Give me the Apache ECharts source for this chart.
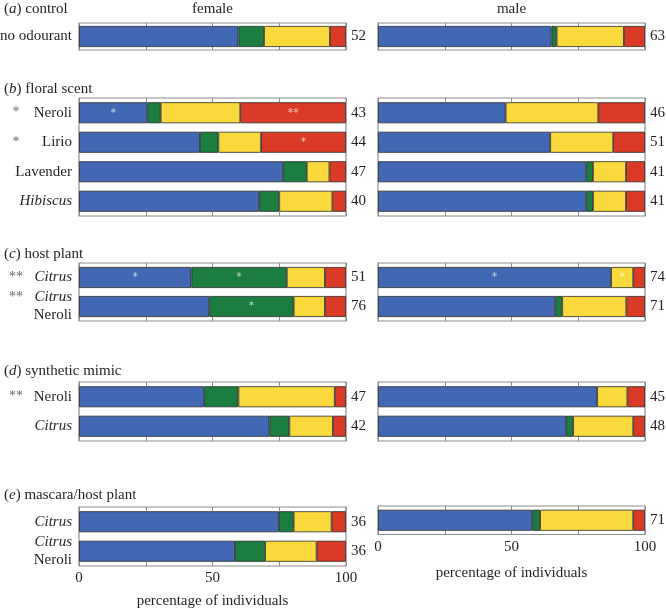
<!DOCTYPE html>
<html>
<head>
<meta charset="utf-8">
<script src="https://cdn.jsdelivr.net/npm/echarts@6/dist/echarts.min.js"></script>
<style>
html, body { margin: 0; padding: 0; background: #fff; }
#main { width: 666px; height: 608px; }
</style>
</head>
<body>
<div id="main"></div>
<script>
// sections and rows
var sectionLetters = ['a', 'b', 'c', 'd', 'e'];
var sectionNames = ['control', 'floral scent', 'host plant', 'synthetic mimic', 'mascara/host plant'];
var rowNames = [['no odourant'], ['Neroli', 'Lirio', 'Lavender', 'Hibiscus'], ['Citrus', 'Citrus\nNeroli'], ['Neroli', 'Citrus'], ['Citrus', 'Citrus\nNeroli']];
var rowStars = [[''], ['*', '*', '', ''], ['**', '**'], ['**', ''], ['', '']];
var italicWords = ['Citrus', 'Hibiscus'];
var panelTitles = ['female', 'male'];
var tickLabels = [0, 50, 100];
var axisTitle = 'percentage of individuals';

// female, per section
var femaleBlue = [[59.7], [25.6, 45.3, 76.5, 67.5], [42.1, 48.8], [46.9, 71.3], [74.9, 58.4]];
var femaleGreen = [[9.6], [5.0, 6.9, 8.8, 7.5], [35.7, 31.6], [12.8, 7.5], [5.5, 11.3]];
var femaleYellow = [[24.7], [29.8, 16.0, 8.5, 19.9], [14.3, 11.7], [36.1, 16.3], [14.2, 19.3]];
var femaleRed = [[6.0], [39.6, 31.8, 6.2, 5.1], [7.9, 7.9], [4.2, 4.9], [5.4, 11.0]];
var femaleN = [[52], [43, 44, 47, 40], [51, 76], [47, 42], [36, 36]];
// stars inside bars: [blue, green, yellow, red]
var femaleStars = [
  [['', '', '', '']],
  [['*', '', '', '**'], ['', '', '', '*'], ['', '', '', ''], ['', '', '', '']],
  [['*', '*', '', ''], ['', '*', '', '']],
  [['', '', '', ''], ['', '', '', '']],
  [['', '', '', ''], ['', '', '', '']]
];

// male, per section (only one row in e)
var maleBlue = [[65.0], [47.8, 64.5, 78.0, 78.0], [87.3, 66.4], [82.1, 70.5], [57.8]];
var maleGreen = [[1.9], [0, 0, 2.5, 2.5], [0, 2.6], [0, 2.6], [2.9]];
var maleYellow = [[25.2], [34.7, 23.6, 12.4, 12.4], [8.3, 24.0], [11.3, 22.5], [34.9]];
var maleRed = [[7.9], [17.5, 11.9, 7.1, 7.1], [4.4, 7.0], [6.6, 4.4], [4.4]];
var maleN = [[63], [46, 51, 41, 41], [74, 71], [45, 48], [71]];
var maleStars = [
  [['', '', '', '']],
  [['', '', '', ''], ['', '', '', ''], ['', '', '', ''], ['', '', '', '']],
  [['*', '', '*', ''], ['', '', '', '']],
  [['', '', '', ''], ['', '', '', '']],
  [['', '', '', '']]
];

var colors = ['#4268b3', '#1b7d3f', '#fad93c', '#da3b27'];
var font = 'Liberation Serif';
var ink = '#231f20';

// layout
var panelLeft = [79, 378];
var panelWidth = 267;
var gridTop = [[23, 98, 263, 382, 507], [23, 98, 263, 382, 506]];
var gridHeight = [[27, 118, 58, 59, 59], [27, 118, 58, 59, 28.5]];
var headTop = [9, 89, 254, 371, 495];
var nameGap = [28, 31];

var panels = [
  { blue: femaleBlue, green: femaleGreen, yellow: femaleYellow, red: femaleRed, n: femaleN, stars: femaleStars },
  { blue: maleBlue, green: maleGreen, yellow: maleYellow, red: maleRed, n: maleN, stars: maleStars }
];

function rowLabel(sec, idx, name) {
  var star = rowStars[sec][idx];
  return name.split('\n').map(function (w, li) {
    var it = italicWords.indexOf(w) >= 0;
    if (li === 0 && star) {
      return '{s|' + star + '}{' + (it ? 'ni' : 'n') + '|' + w + '}';
    }
    return '{' + (it ? 'mi' : 'm') + '|' + w + '}';
  }).join('\n');
}

var labelRich = {
  s: { width: 22, align: 'center', fontSize: 14, color: '#666', fontFamily: font, lineHeight: 18 },
  n: { width: 45, align: 'right', fontSize: 15, color: ink, fontFamily: font, lineHeight: 18 },
  ni: { width: 45, align: 'right', fontSize: 15, color: ink, fontFamily: font, fontStyle: 'italic', lineHeight: 18 },
  m: { fontSize: 15, color: ink, fontFamily: font, lineHeight: 18 },
  mi: { fontSize: 15, color: ink, fontFamily: font, fontStyle: 'italic', lineHeight: 18 }
};

var grid = [], xAxis = [], yAxis = [], series = [], graphic = [];

panels.forEach(function (pd, p) {
  sectionLetters.forEach(function (letter, s) {
    var g = grid.length;
    var nRows = pd.blue[s].length;
    var cats = rowNames[s].slice(0, nRows);
    var last = s === sectionLetters.length - 1;
    grid.push({
      left: panelLeft[p], width: panelWidth, top: gridTop[p][s], height: gridHeight[p][s],
      outerBoundsMode: 'none', containLabel: false,
      show: true, borderColor: '#8c8c8c', borderWidth: 1.2, backgroundColor: 'transparent'
    });
    var tick = { show: true, inside: true, length: 4, lineStyle: { color: '#8c8c8c', width: 1 } };
    xAxis.push({
      type: 'value', gridIndex: g, position: 'bottom', min: 0, max: 100, interval: 25,
      axisLine: { show: false }, splitLine: { show: false }, axisTick: tick,
      axisLabel: {
        show: last, margin: 5, fontSize: 15, fontFamily: font, color: ink,
        formatter: function (v) { return tickLabels.indexOf(v) >= 0 ? String(v) : ''; }
      },
      name: last ? axisTitle : '', nameLocation: 'middle', nameGap: nameGap[p],
      nameTextStyle: { fontSize: 15, fontFamily: font, color: ink }
    });
    xAxis.push({
      type: 'value', gridIndex: g, position: 'top', min: 0, max: 100, interval: 25,
      axisLine: { show: false }, splitLine: { show: false }, axisTick: tick, axisLabel: { show: false }
    });
    yAxis.push({
      type: 'category', gridIndex: g, position: 'left', inverse: true, data: cats,
      axisLine: { show: false }, axisTick: { show: false },
      axisLabel: {
        show: p === 0, margin: 7, rich: labelRich,
        formatter: function (v, i) { return rowLabel(s, i, v); }
      }
    });
    yAxis.push({
      type: 'category', gridIndex: g, position: 'right', inverse: true,
      data: pd.n[s].map(String),
      axisLine: { show: false }, axisTick: { show: false },
      axisLabel: { margin: 5, fontSize: 15, fontFamily: font, color: ink }
    });
    [pd.blue, pd.green, pd.yellow, pd.red].forEach(function (vals, k) {
      series.push({
        type: 'bar', xAxisIndex: 2 * g, yAxisIndex: 2 * g, stack: 'st' + g,
        barWidth: 21, silent: true, animation: false,
        data: vals[s].map(function (v) { return v > 0 ? v : null; }),
        itemStyle: { color: colors[k], borderColor: '#2a2a2a', borderWidth: 0.8 },
        label: {
          show: true, position: 'inside', fontSize: 11, fontFamily: 'DejaVu Sans',
          color: 'rgba(255,255,255,0.7)',
          formatter: function (prm) { return pd.stars[s][prm.dataIndex][k]; }
        }
      });
    });
  });
});

// section headings
sectionLetters.forEach(function (letter, s) {
  graphic.push({
    type: 'text', x: 4, y: headTop[s],
    style: {
      text: '{p|(}{i|' + letter + '}{p|) ' + sectionNames[s] + '}',
      verticalAlign: 'middle', align: 'left',
      rich: {
        p: { fontSize: 15, fontFamily: font, fill: ink },
        i: { fontSize: 15, fontFamily: font, fontStyle: 'italic', fill: ink }
      }
    }
  });
});
panelTitles.forEach(function (t, p) {
  graphic.push({
    type: 'text', x: panelLeft[p] + panelWidth / 2, y: 9,
    style: { text: t, align: 'center', verticalAlign: 'middle', fontSize: 15, fontFamily: font, fill: ink }
  });
});

var chart = echarts.init(document.getElementById('main'));
chart.setOption({
  animation: false,
  backgroundColor: '#fff',
  grid: grid,
  xAxis: xAxis,
  yAxis: yAxis,
  series: series,
  graphic: graphic
});
</script>
</body>
</html>
